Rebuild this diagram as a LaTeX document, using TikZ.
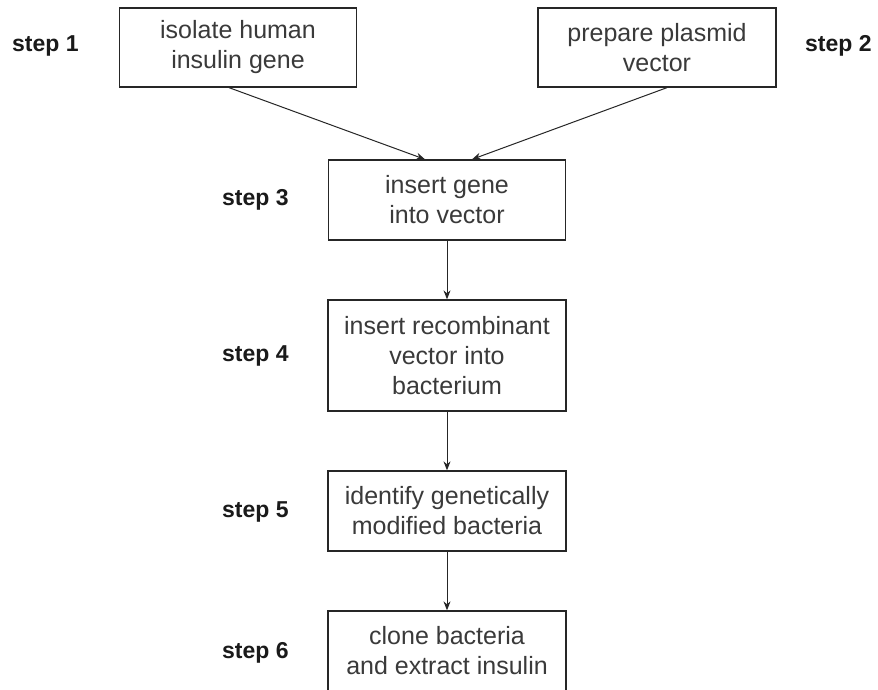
\documentclass[tikz,border=0pt]{standalone}
\usepackage{fontspec}
\setmainfont{Liberation Sans}
\usetikzlibrary{arrows.meta}
\definecolor{boxtext}{HTML}{3A3A3A}
\definecolor{steptext}{HTML}{1A1A1A}
\tikzset{
  stepbox/.style={draw=black!85, line width=1.3pt, minimum width=237pt, inner sep=0pt,
    align=center, text=boxtext, font=\fontsize{25}{30}\selectfont},
  steplabel/.style={text=steptext, font=\bfseries\fontsize{23}{27}\selectfont, inner sep=0pt},
  flow/.style={draw=black!85, line width=1pt, -{Stealth[length=9pt,width=7pt]}}
}
\begin{document}
\begin{tikzpicture}[x=1pt,y=-1pt]
\clip (0,0) rectangle (878,690);
\fill[white] (0,0) rectangle (878,690);
\node[stepbox, minimum height=79pt] (b1) at (238,47.5) {isolate human\\insulin gene};
\node[stepbox, minimum height=79pt, minimum width=238pt] (b2) at (657,47.5) {prepare plasmid\\vector};
\node[stepbox, minimum height=80pt] (b3) at (447,200) {insert gene\\into vector};
\node[stepbox, minimum height=111pt, minimum width=238pt] (b4) at (447,355.5) {insert recombinant\\vector into\\bacterium};
\node[stepbox, minimum height=80pt, minimum width=238pt] (b5) at (447,511) {identify genetically\\modified bacteria};
\node[stepbox, minimum height=80pt, minimum width=238pt] (b6) at (447,651) {clone bacteria\\and extract insulin};

\node[steplabel, anchor=west] (s1) at (12,46) {step 1};
\node[steplabel, anchor=west] (s2) at (805,46) {step 2};
\node[steplabel, anchor=west] (s3) at (222,200) {step 3};
\node[steplabel, anchor=west] (s4) at (222,356) {step 4};
\node[steplabel, anchor=west] (s5) at (222,512) {step 5};
\node[steplabel, anchor=west] (s6) at (222,653) {step 6};

\draw[flow] ([xshift=-9pt]b1.south) -- ([xshift=-22pt]b3.north);
\draw[flow] ([xshift=10pt]b2.south) -- ([xshift=25pt]b3.north);
\draw[flow] (b3.south) -- (b4.north);
\draw[flow] (b4.south) -- (b5.north);
\draw[flow] (b5.south) -- (b6.north);
\end{tikzpicture}
\end{document}
